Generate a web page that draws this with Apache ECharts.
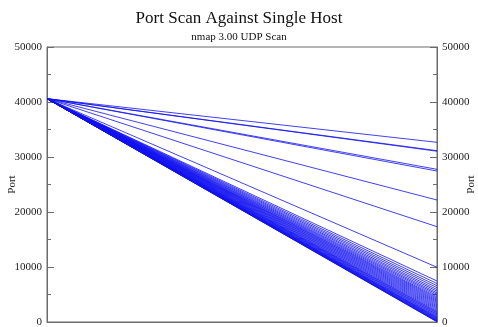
<!DOCTYPE html>
<html>
<head>
<meta charset="utf-8">
<script src="https://cdn.jsdelivr.net/npm/echarts@6/dist/echarts.min.js"></script>
<style>
  html, body { margin: 0; padding: 0; background: #fff; }
  #chart { width: 478px; height: 327px; }
</style>
</head>
<body>
<div id="chart"></div>
<script>
// every probe starts at the same port and ends at its own port
const startPort = 40600;
const endPorts = [
  32670, 31150, 31050, 27760, 27450, 22180, 17330, 9950,
  7450, 7000, 6600, 6250, 5900, 5600, 5300, 5050, 4800, 4550,
  4350, 4150, 3950, 3750, 3550, 3350, 3150, 2950, 2750, 2550,
  2350, 2150, 1950, 1800, 1650, 1500, 1350, 1200, 1050, 900,
  800, 700, 600, 500, 400, 300, 220, 150, 80, 30
];
const yTicks = [0, 10000, 20000, 30000, 40000, 50000];

const serif = "'Liberation Serif', 'DejaVu Serif', serif";
const frameColor = "#6b6b6b";
const lineColor = "#1010f0";

function portAxis(position) {
  return {
    type: "value",
    position: position,
    min: yTicks[0],
    max: yTicks[yTicks.length - 1],
    interval: yTicks[1] - yTicks[0],
    name: "Port",
    nameLocation: "middle",
    nameGap: 29,
    nameRotate: 90,
    nameMoveOverlap: false,
    nameTextStyle: { fontFamily: serif, fontSize: 11, color: "#222" },
    axisLine: { show: true, lineStyle: { color: frameColor, width: 1 } },
    axisTick: { show: true, inside: true, length: 7, lineStyle: { color: frameColor } },
    minorTick: { show: true, splitNumber: 2, length: 4, lineStyle: { color: frameColor } },
    axisLabel: {
      fontFamily: serif,
      fontSize: 11,
      color: "#222",
      margin: 5,
      formatter: (v) => String(v)
    },
    splitLine: { show: false }
  };
}

const chart = echarts.init(document.getElementById("chart"), null, { renderer: "canvas" });

chart.setOption({
  animation: false,
  title: {
    text: "Port Scan Against Single Host",
    subtext: "nmap 3.00 UDP Scan",
    left: "center",
    top: 5,
    itemGap: 5,
    textStyle: { fontFamily: serif, fontSize: 17, fontWeight: "normal", color: "#111" },
    subtextStyle: { fontFamily: serif, fontSize: 11, color: "#111" }
  },
  grid: {
    left: 47,
    right: 41,
    top: 47,
    bottom: 5,
    containLabel: false,
    outerBoundsMode: "none",
    show: true,
    borderColor: frameColor,
    borderWidth: 1
  },
  xAxis: {
    type: "value",
    min: 0,
    max: 1,
    axisLine: { show: true, lineStyle: { color: frameColor } },
    axisTick: { show: false },
    axisLabel: { show: false },
    splitLine: { show: false }
  },
  yAxis: [portAxis("left"), portAxis("right")],
  series: endPorts.map((end) => ({
    type: "line",
    data: [[0, startPort], [1, end]],
    showSymbol: false,
    silent: true,
    lineStyle: { color: lineColor, width: 0.8 }
  }))
});
</script>
</body>
</html>
